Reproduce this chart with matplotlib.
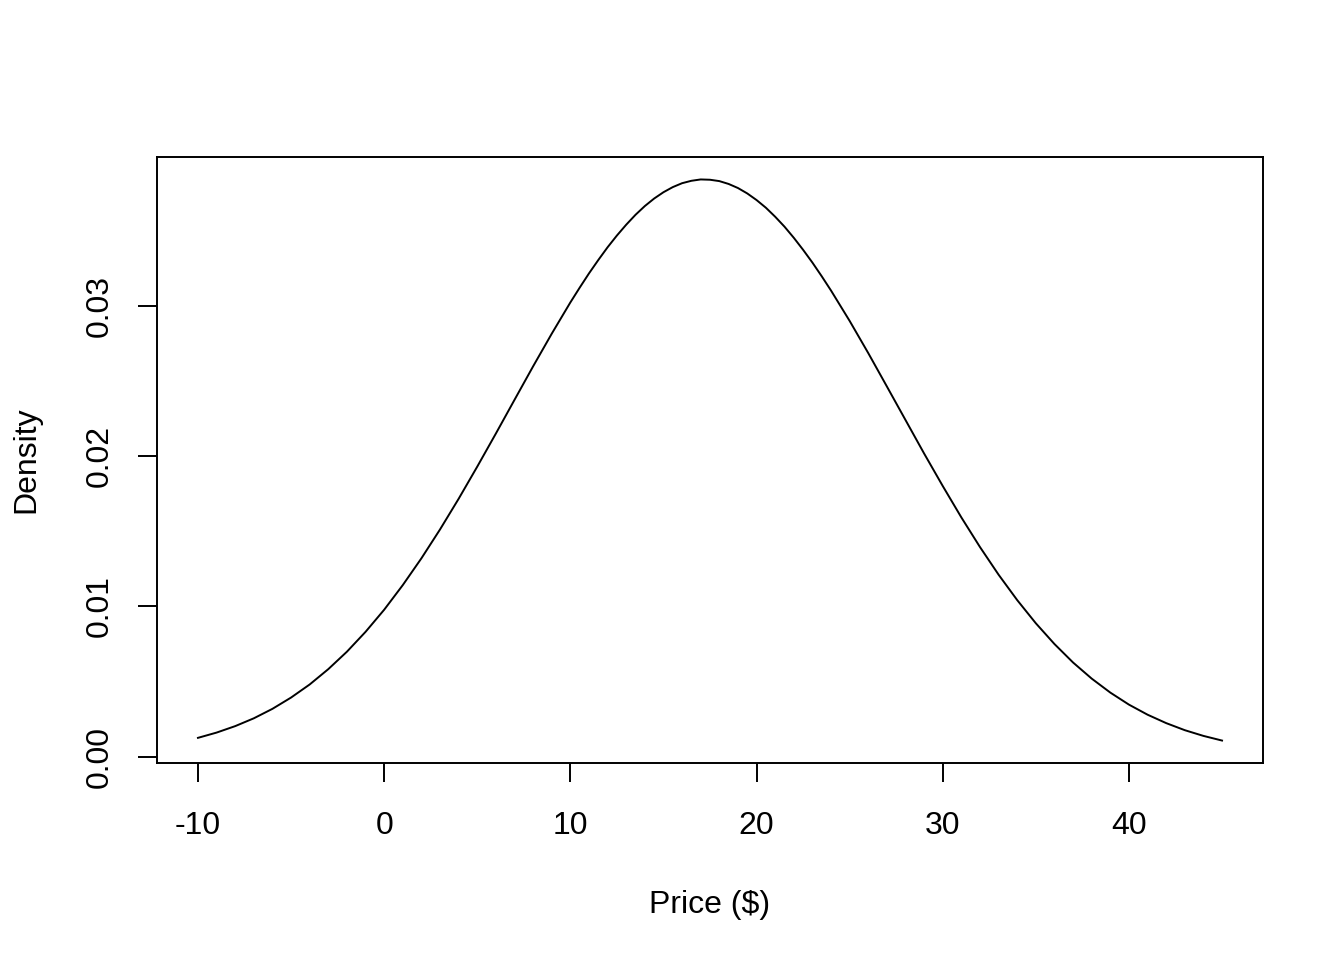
# density curve of price, redrawn in the look of an R base plot

import matplotlib.pyplot as plt

plt.rcParams["font.family"] = ["Liberation Sans", "DejaVu Sans"]

# values (one per dollar, every half dollar near the top)
price = [-10, -9, -8, -7, -6, -5, -4, -3, -2, -1, 0, 1, 2, 3, 4, 5, 6, 7, 8, 9,
         10, 10.5, 11, 11.5, 12, 12.5, 13, 13.5, 14, 14.5, 15, 15.5, 16, 16.5,
         17, 17.5, 18, 18.5, 19, 19.5, 20, 20.5, 21, 21.5, 22, 22.5, 23, 23.5,
         24, 25, 26, 27, 28, 29, 30, 31, 32, 33, 34, 35, 36, 37, 38, 39, 40,
         41, 42, 43, 44, 45]
density = [0.00126, 0.00161, 0.00204, 0.00256, 0.00319, 0.00394, 0.00481, 0.00583,
           0.00699, 0.00831, 0.00978, 0.01142, 0.01320, 0.01512, 0.01716, 0.01930,
           0.02150, 0.02374, 0.02597, 0.02814,
           0.03022, 0.03120, 0.03215, 0.03304, 0.03389, 0.03467, 0.03539, 0.03605,
           0.03663, 0.03713, 0.03755, 0.03789, 0.03815, 0.03831,
           0.03840, 0.03838, 0.03829, 0.03810, 0.03783, 0.03747, 0.03703, 0.03652,
           0.03592, 0.03526, 0.03452, 0.03372, 0.03287, 0.03196,
           0.03101, 0.02899, 0.02685, 0.02463, 0.02240, 0.02017,
           0.01801, 0.01592, 0.01395, 0.01211, 0.01042, 0.00888, 0.00750, 0.00627,
           0.00520, 0.00427, 0.00347, 0.00280, 0.00224, 0.00177, 0.00139, 0.00108]

x_ticks = [-10, 0, 10, 20, 30, 40]
y_ticks = [0.00, 0.01, 0.02, 0.03]
y_labels = ["0.00", "0.01", "0.02", "0.03"]

fig = plt.figure(figsize=(13.44, 9.6), dpi=100)
ax = fig.add_axes([157/1344, 1-763/960, (1263-157)/1344, (763-157)/960])

ax.plot(price, density, color="black", linewidth=1.4)

# R style: 4% padding on each side
xr = max(price) - min(price)
yr = max(density) - min(density)
ax.set_xlim(min(price) - 0.04*xr, max(price) + 0.04*xr)
ax.set_ylim(min(density) - 0.04*yr, max(density) + 0.04*yr)

ax.set_xticks(x_ticks)
ax.set_xticklabels([str(t) for t in x_ticks])
ax.set_yticks(y_ticks)
ax.set_yticklabels(y_labels, rotation=90, va="center")

ax.tick_params(axis="both", direction="out", length=13.7, width=1.4,
               labelsize=23, color="black")
ax.tick_params(axis="x", pad=21)
ax.tick_params(axis="y", pad=17)
for s in ax.spines.values():
    s.set_linewidth(1.4)

ax.set_xlabel("Price ($)", fontsize=23, labelpad=35)
ax.set_ylabel("Density", fontsize=23, labelpad=31)

plt.savefig("out.png", dpi=100)
